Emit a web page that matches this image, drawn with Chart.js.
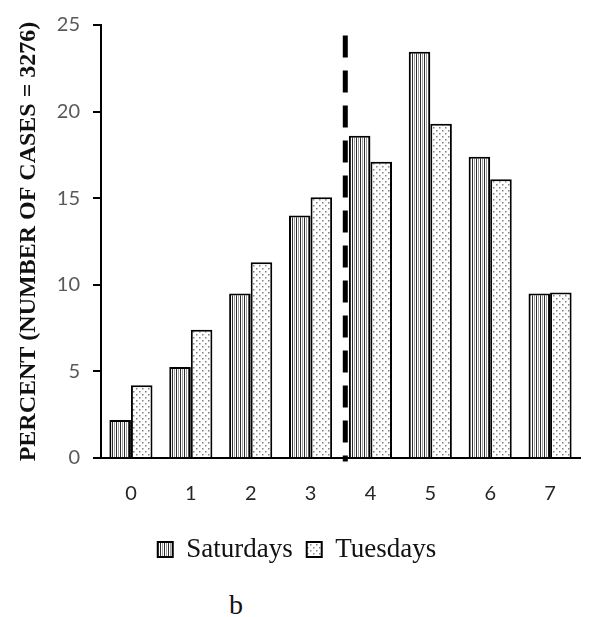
<!DOCTYPE html>
<html>
<head>
<meta charset="utf-8">
<script src="https://cdn.jsdelivr.net/npm/chart.js@4"></script>
<style>
  html, body { margin: 0; padding: 0; background: #fff; }
  #wrap { position: relative; width: 589px; height: 617px; }
  #panel {
    position: absolute; left: 229px; top: 589px;
    font-family: 'Liberation Serif', 'Times New Roman', serif;
    font-size: 28px; line-height: 32px; color: #111;
  }
</style>
</head>
<body>
<div id="wrap">
  <canvas id="caseChart" width="589" height="573"></canvas>
  <div id="panel">b</div>
</div>
<script>
// Chart data
const hours = ['0', '1', '2', '3', '4', '5', '6', '7'];
const saturdays = [2.2, 5.25, 9.5, 14.0, 18.6, 23.45, 17.4, 9.5];
const tuesdays = [4.2, 7.4, 11.3, 15.05, 17.1, 19.3, 16.1, 9.55];
const yTicks = [0, 5, 10, 15, 20, 25];

// Dashed divider (category position, value range)
const dividerAt = 3.58;
const dividerFrom = -0.2;
const dividerTo = 24.4;

/**
 * Builds a small repeating canvas pattern
 */
function makePattern(size, drawTile) {
    const tile = document.createElement('canvas');
    tile.width = size;
    tile.height = size;
    const tctx = tile.getContext('2d');
    tctx.fillStyle = '#ffffff';
    tctx.fillRect(0, 0, size, size);
    drawTile(tctx);
    return document.getElementById('caseChart').getContext('2d').createPattern(tile, 'repeat');
}

const stripes = makePattern(4, function(c) {
    c.fillStyle = '#2e2e2e';
    c.fillRect(0, 0, 1, 4);
    c.fillStyle = '#a0a0a0';
    c.fillRect(2, 0, 1, 4);
});

const dots = makePattern(6, function(c) {
    c.fillStyle = '#808080';
    c.fillRect(1, 1, 1.5, 1.5);
    c.fillRect(4, 4, 1.5, 1.5);
});

// Draws the vertical dashed divider through the scales
const dividerPlugin = {
    id: 'divider',
    afterDatasetsDraw(chart) {
        const x = chart.scales.x.getPixelForValue(dividerAt);
        const y1 = chart.scales.y.getPixelForValue(dividerTo);
        const y2 = chart.scales.y.getPixelForValue(dividerFrom);
        const ctx = chart.ctx;
        ctx.save();
        ctx.strokeStyle = '#000';
        ctx.lineWidth = 5;
        ctx.setLineDash([22, 13]);
        ctx.beginPath();
        ctx.moveTo(x, y1);
        ctx.lineTo(x, y2);
        ctx.stroke();
        ctx.restore();
    }
};

new Chart(document.getElementById('caseChart'), {
    type: 'bar',
    data: {
        labels: hours,
        datasets: [{
            label: 'Saturdays',
            data: saturdays,
            backgroundColor: stripes,
            borderColor: '#000',
            borderWidth: 2
        }, {
            label: 'Tuesdays',
            data: tuesdays,
            backgroundColor: dots,
            borderColor: '#000',
            borderWidth: 2
        }]
    },
    options: {
        responsive: false,
        animation: false,
        categoryPercentage: 0.72,
        barPercentage: 1.0,
        layout: {
            padding: { top: 3, right: 9, left: 14, bottom: 0 }
        },
        scales: {
            x: {
                grid: { display: false },
                border: { display: true, color: '#000', width: 2 },
                ticks: {
                    color: '#262626',
                    padding: 16,
                    font: { family: 'Lato, "Open Sans", sans-serif', size: 20 }
                }
            },
            y: {
                min: 0,
                max: 25,
                afterBuildTicks: function(axis) {
                    axis.ticks = yTicks.map(v => ({ value: v }));
                },
                grid: {
                    drawOnChartArea: false,
                    drawTicks: true,
                    tickLength: 8,
                    color: '#000',
                    lineWidth: 2
                },
                border: { display: true, color: '#000', width: 2 },
                ticks: {
                    color: '#595959',
                    padding: 13,
                    font: { family: 'Lato, "Open Sans", sans-serif', size: 20 }
                },
                title: {
                    display: true,
                    text: 'PERCENT (NUMBER OF CASES = 3276)',
                    color: '#111',
                    padding: { top: 0, bottom: 1 },
                    font: { family: '"Liberation Serif", "Times New Roman", serif', size: 24, weight: 'bold' }
                }
            }
        },
        plugins: {
            legend: {
                position: 'bottom',
                labels: {
                    color: '#111',
                    boxWidth: 15,
                    boxHeight: 15,
                    padding: 14,
                    font: { family: '"Liberation Serif", "Times New Roman", serif', size: 27 }
                }
            },
            tooltip: { enabled: false }
        }
    },
    plugins: [dividerPlugin]
});
</script>
</body>
</html>
